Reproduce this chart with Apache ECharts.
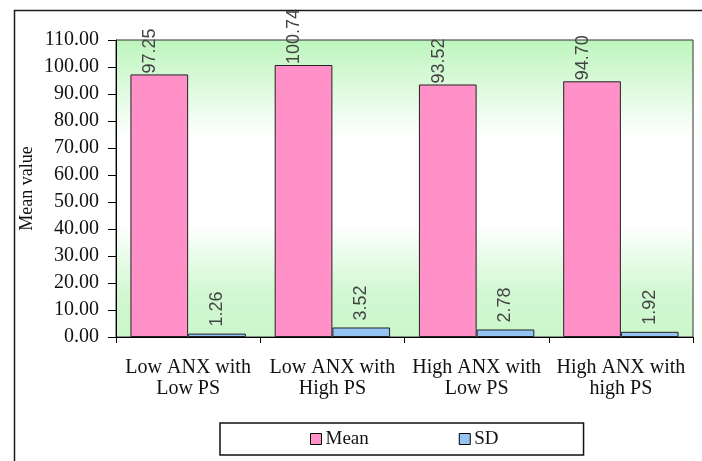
<!DOCTYPE html>
<html>
<head>
<meta charset="utf-8">
<script src="https://cdn.jsdelivr.net/npm/echarts@6/dist/echarts.min.js"></script>
<style>
html,body{margin:0;padding:0;background:#fff;}
#chart{width:702px;height:461px;}
</style>
</head>
<body>
<div id="chart"></div>
<script>
var categories = ["Low ANX with\nLow PS", "Low ANX with\nHigh PS", "High ANX with\nLow PS", "High ANX with\nhigh PS"];
var meanValues = [97.25, 100.74, 93.52, 94.70];
var sdValues = [1.26, 3.52, 2.78, 1.92];
var yTicks = {min: 0, max: 110, interval: 10};
var seriesNames = ["Mean", "SD"];

var chart = echarts.init(document.getElementById('chart'), null, {renderer: 'canvas'});
var serif = '"Liberation Serif", "Times New Roman", serif';
var sans = '"Liberation Sans", Arial, sans-serif';

function labelCfg(dist, valign) {
  return {
    show: true,
    position: 'top',
    distance: dist,
    rotate: 90,
    align: 'left',
    verticalAlign: valign,
    fontFamily: sans,
    fontSize: 18,
    color: '#444',
    formatter: function (p) { return p.value.toFixed(2); }
  };
}

var option = {
  backgroundColor: '#ffffff',
  animation: false,
  graphic: [{
    type: 'rect',
    left: 12, top: 8,
    shape: {width: 720, height: 480},
    style: {fill: 'none', stroke: '#1a1a1a', lineWidth: 1.5},
    silent: true
  }],
  grid: {
    left: 116, top: 40, right: 9, bottom: 124,
    show: true,
    borderColor: '#333',
    borderWidth: 1,
    backgroundColor: new echarts.graphic.LinearGradient(0, 0, 0, 1, [
      {offset: 0, color: '#bdf5bd'},
      {offset: 0.33, color: '#ffffff'},
      {offset: 0.62, color: '#ffffff'},
      {offset: 0.85, color: '#d2f8d2'},
      {offset: 1, color: '#cbf6cb'}
    ])
  },
  legend: {
    left: 220, top: 423,
    padding: [6, 85, 6, 90],
    itemGap: 90,
    itemWidth: 11, itemHeight: 11,
    borderColor: '#111', borderWidth: 1.5,
    backgroundColor: '#fff',
    icon: 'rect',
    data: seriesNames,
    itemStyle: {borderColor: '#000', borderWidth: 1},
    textStyle: {fontFamily: serif, fontSize: 19, color: '#111', lineHeight: 20, padding: [0, 0, 0, -1]}
  },
  xAxis: {
    type: 'category',
    data: categories,
    axisLine: {lineStyle: {color: '#000', width: 1}},
    axisTick: {show: true, length: 6, lineStyle: {color: '#000'}},
    axisLabel: {fontFamily: serif, fontSize: 20, color: '#111', lineHeight: 21, margin: 20, interval: 0},
    splitLine: {show: false}
  },
  yAxis: {
    type: 'value',
    min: yTicks.min, max: yTicks.max, interval: yTicks.interval,
    name: 'Mean value',
    nameLocation: 'middle',
    nameGap: 80,
    nameMoveOverlap: false,
    nameTextStyle: {fontFamily: serif, fontSize: 18, color: '#111'},
    axisLine: {show: true, lineStyle: {color: '#000', width: 1}},
    axisTick: {show: true, length: 8, lineStyle: {color: '#000'}},
    axisLabel: {fontFamily: serif, fontSize: 20, color: '#111', margin: 17,
      formatter: function (v) { return v.toFixed(2); }},
    splitLine: {show: false}
  },
  series: [
    {
      name: seriesNames[0], type: 'bar', data: meanValues,
      barGap: '0%', barCategoryGap: '20%',
      itemStyle: {color: '#ff91c8', borderColor: '#222', borderWidth: 1},
      label: labelCfg(1, 'bottom')
    },
    {
      name: seriesNames[1], type: 'bar', data: sdValues,
      barGap: '0%', barCategoryGap: '20%',
      itemStyle: {color: '#95c3f3', borderColor: '#222', borderWidth: 1},
      label: labelCfg(7, 'middle')
    }
  ]
};
chart.setOption(option);
</script>
</body>
</html>
